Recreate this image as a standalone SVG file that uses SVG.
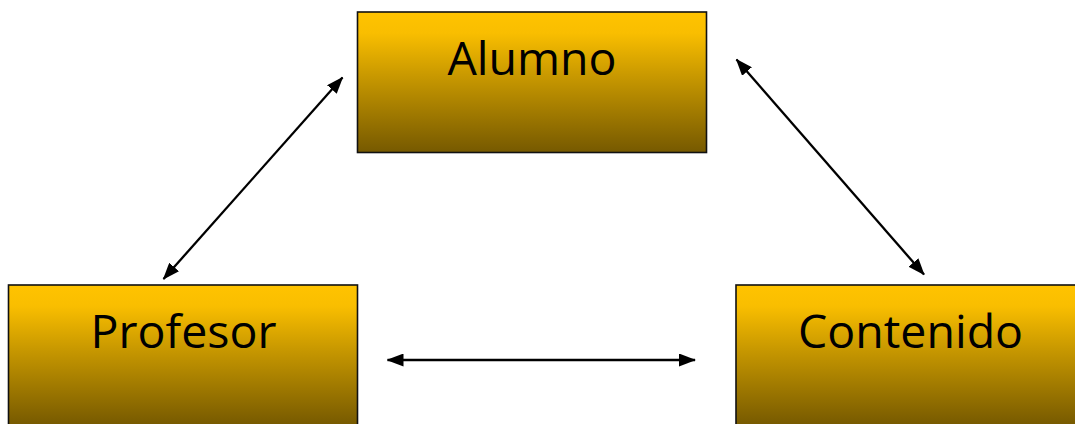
<svg xmlns="http://www.w3.org/2000/svg" width="1075" height="424" viewBox="0 0 1075 424">
  <style>
    .box { stroke: #111; stroke-width: 1.6; fill: url(#gold); }
    .label { font-family: "Open Sans", "Liberation Sans", sans-serif; font-size: 46.5px; fill: #000; text-anchor: middle; }
    .link { stroke: #000; stroke-width: 2.3; fill: none; marker-start: url(#head); marker-end: url(#head); }
  </style>
  <defs>
    <linearGradient id="gold" x1="0" y1="0" x2="0" y2="1">
      <stop offset="0" stop-color="#FFC300"/>
      <stop offset="0.15" stop-color="#F9BE00"/>
      <stop offset="0.45" stop-color="#C99900"/>
      <stop offset="1" stop-color="#765900"/>
    </linearGradient>
    <marker id="head" viewBox="0 0 17 13" refX="16" refY="6.5" markerWidth="17" markerHeight="13" markerUnits="userSpaceOnUse" orient="auto-start-reverse">
      <path d="M0,0 L17,6.5 L0,13 Z" fill="#000"/>
    </marker>
  </defs>

  <g id="node-alumno">
    <rect class="box" x="357.5" y="12" width="349" height="140.5"/>
    <text class="label" x="532" y="74.5">Alumno</text>
  </g>

  <g id="node-profesor">
    <rect class="box" x="8.5" y="285" width="349" height="140.5"/>
    <text class="label" x="183.5" y="347.5">Profesor</text>
  </g>

  <g id="node-contenido">
    <rect class="box" x="736" y="285" width="349" height="140.5"/>
    <text class="label" x="910.5" y="347.5">Contenido</text>
  </g>

  <g id="connectors">
    <line class="link" x1="163.5" y1="279" x2="342.5" y2="77.5"/>
    <line class="link" x1="736.5" y1="59.5" x2="924" y2="274.5"/>
    <line class="link" x1="387.5" y1="360" x2="695" y2="360"/>
  </g>
</svg>
